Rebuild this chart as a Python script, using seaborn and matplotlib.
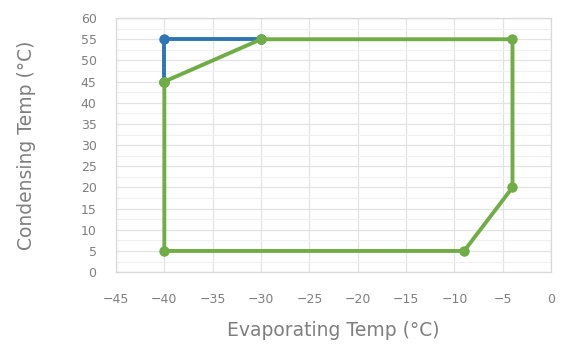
import matplotlib
matplotlib.use("Agg")
import matplotlib.pyplot as plt
import seaborn as sns
import pandas as pd
from matplotlib.ticker import MultipleLocator

# Data
blue_x = [-40, -40, -30]
blue_y = [45, 55, 55]
green_x = [-40, -30, -4, -4, -9, -40, -40]
green_y = [45, 55, 55, 20, 5, 5, 45]

x_ticks = [-45, -40, -35, -30, -25, -20, -15, -10, -5, 0]
y_ticks = [0, 5, 10, 15, 20, 25, 30, 35, 40, 45, 50, 55, 60]

sns.set_style("white")
plt.rcParams['font.family'] = ['DejaVu Sans']

fig = plt.figure(figsize=(5.63, 3.48), dpi=100)
ax = fig.add_axes([0.206, 0.218, 0.773, 0.730])

dfb = pd.DataFrame({"x": blue_x, "y": blue_y})
dfg = pd.DataFrame({"x": green_x, "y": green_y})

sns.lineplot(data=dfb, x="x", y="y", sort=False, estimator=None, ax=ax,
             color="#2e75b6", linewidth=2.8, marker="o", markersize=7.5,
             markeredgewidth=0, zorder=3)
sns.lineplot(data=dfg, x="x", y="y", sort=False, estimator=None, ax=ax,
             color="#70ad47", linewidth=2.8, marker="o", markersize=7.5,
             markeredgewidth=0, zorder=4)

ax.set_xlim(-45, 0)
ax.set_ylim(0, 60)
ax.set_xticks(x_ticks)
ax.set_yticks(y_ticks)
ax.yaxis.set_minor_locator(MultipleLocator(2.5))
ax.grid(which="major", axis="both", color="#e3e3e3", linewidth=0.9)
ax.grid(which="minor", axis="y", color="#f0f0f0", linewidth=0.8)
ax.set_axisbelow(True)
for s in ax.spines.values():
    s.set_color("#d9d9d9")
    s.set_linewidth(0.9)
ax.tick_params(axis="both", which="both", length=0, labelsize=9,
               labelcolor="#7f7f7f")
ax.tick_params(axis="x", pad=15)
ax.tick_params(axis="y", pad=14)
ax.set_xlabel("Evaporating Temp (°C)", fontsize=13.5, color="#7f7f7f", labelpad=11)
ax.set_ylabel("Condensing Temp (°C)", fontsize=13.5, color="#7f7f7f", labelpad=32)

fig.savefig("out.png", dpi=100, facecolor="white")
